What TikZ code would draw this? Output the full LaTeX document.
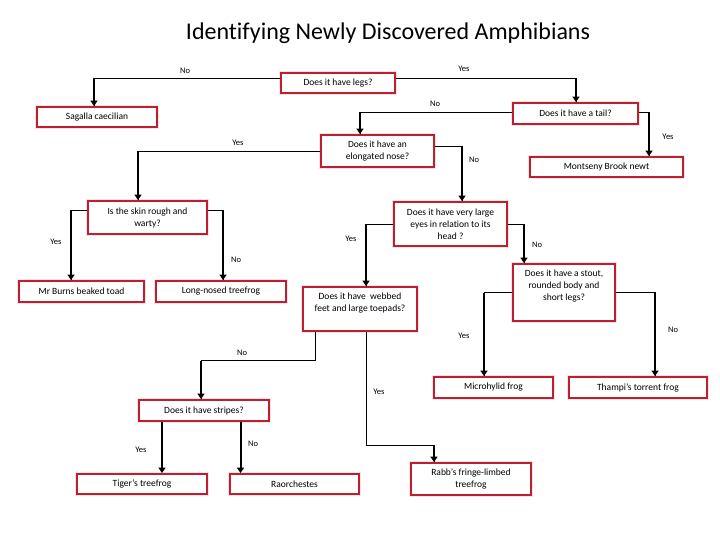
\documentclass[tikz,border=0pt]{standalone}
\usepackage{fontspec}
\setmainfont[Ligatures=NoCommon]{Carlito}
\usetikzlibrary{arrows.meta}
\definecolor{boxred}{RGB}{190,30,45}
\tikzset{
  box/.style={draw=boxred, line width=1.8pt, fill=white, inner sep=0pt, align=center,
    font=\fontsize{9.5}{12}\selectfont, preaction={draw=boxred!12, line width=4pt}},
  txt/.style={align=center, inner sep=0pt, font=\fontsize{9.5}{12}\selectfont},
  lab/.style={inner sep=0pt, font=\fontsize{8.5}{10}\selectfont},
  hline/.style={draw=black, line width=0.9pt},
  vline/.style={draw=black, line width=2pt, -{Triangle[width=7pt,length=5.5pt]}},
}
\begin{document}
\begin{tikzpicture}[x=1pt,y=-1pt]
\useasboundingbox (0,0) rectangle (720,540);
\node[inner sep=0pt, font=\fontsize{24}{28}\selectfont] (title) at (388,33) {Identifying Newly Discovered Amphibians};

% boxes
\node[box, minimum width=114, minimum height=20] (legs) at (338,83) {Does it have legs?};
\node[box, minimum width=120, minimum height=20] (sag) at (97,117) {Sagalla caecilian};
\node[box, minimum width=125, minimum height=21] (tail) at (575.5,113.5) {Does it have a tail?};
\node[box, minimum width=153, minimum height=20] (newt) at (606.5,167) {Montseny Brook newt};
\node[box, minimum width=113, minimum height=32] (elong) at (377.5,151) {Does it have an\\elongated nose?};
\node[box, minimum width=119, minimum height=33] (skin) at (147.5,217.5) {Is the skin rough and\\warty?};
\node[box, minimum width=113, minimum height=44] (eyes) at (450.5,224) {Does it have very large\\eyes in relation to its\\head ?};
\node[box, minimum width=125, minimum height=21] (burns) at (81.5,291.5) {Mr Burns beaked toad};
\node[box, minimum width=130, minimum height=21] (longnose) at (221,291.5) {Long-nosed treefrog};
\node[box, minimum width=114, minimum height=44] (webbedbox) at (360,309) {};
\node[txt] (webbedtxt) at (360,303.5) {Does it have \ webbed\\feet and large toepads?};
\node[box, minimum width=102, minimum height=57] (stoutbox) at (564,292.5) {};
\node[txt] (stouttxt) at (564,286) {Does it have a stout,\\rounded body and\\short legs?};
\node[box, minimum width=119, minimum height=21] (micro) at (493.5,387.5) {Microhylid frog};
\node[box, minimum width=138, minimum height=21] (thampi) at (638,387.5) {Thampi’s torrent frog};
\node[box, minimum width=130, minimum height=21] (stripes) at (204,410.5) {Does it have stripes?};
\node[box, minimum width=130, minimum height=20] (tiger) at (142,484) {Tiger’s treefrog};
\node[box, minimum width=129, minimum height=20] (rao) at (294.5,484) {Raorchestes};
\node[box, minimum width=120, minimum height=32] (rabb) at (471,479) {Rabb’s fringe-limbed\\treefrog};

% connector end points
\coordinate (a1) at ([yshift=5pt]legs.west);     \coordinate (a2) at ([xshift=-3pt]sag.north);
\coordinate (b1) at ([yshift=5pt]legs.east);     \coordinate (b2) at ([xshift=0.5pt]tail.north);
\coordinate (c1) at ([yshift=1.5pt]tail.west);   \coordinate (c2) at ([xshift=-17.5pt]elong.north);
\coordinate (d1) at ([yshift=1.5pt]tail.east);   \coordinate (d2) at ([xshift=42.5pt]newt.north);
\coordinate (e1) at (elong.west);                \coordinate (e2) at ([xshift=-9.5pt]skin.north);
\coordinate (f1) at ([yshift=5pt]elong.east);    \coordinate (f2) at ([xshift=11.5pt]eyes.north);
\coordinate (g1) at ([yshift=7pt]skin.west);     \coordinate (g2) at ([xshift=-10.5pt]burns.north);
\coordinate (h1) at ([yshift=7pt]skin.east);     \coordinate (h2) at ([xshift=2pt]longnose.north);
\coordinate (i1) at (eyes.west);                 \coordinate (i2) at ([xshift=6pt]webbedbox.north);
\coordinate (j1) at (eyes.east);                 \coordinate (j2) at ([xshift=-40pt]stoutbox.north);
\coordinate (m1) at (stoutbox.west);             \coordinate (m2) at ([xshift=-9.5pt]micro.north);
\coordinate (n1) at (stoutbox.east);             \coordinate (n2) at ([xshift=17pt]thampi.north);
\coordinate (k1) at ([xshift=-45pt]webbedbox.south); \coordinate (k2) at ([xshift=-3pt]stripes.north);
\coordinate (k3) at ([yshift=-29pt]k1);
\coordinate (p1) at ([xshift=6pt]webbedbox.south);   \coordinate (p2) at ([xshift=-37pt]rabb.north);
\coordinate (p3) at ([yshift=-114pt]p1);
\coordinate (s1) at ([xshift=-42pt]stripes.south);
\coordinate (s2) at ([xshift=36.5pt]stripes.south);

% connectors
\foreach \c in {a,b,c,d,e,f,g,h,i,j,m,n}{
  \draw[hline] (\c1) -| (\c2);
  \draw[vline] (\c1 -| \c2) -- (\c2);
}
\draw[hline] (k1) -- (k3) -| (k2);
\draw[vline] (k3 -| k2) -- (k2);
\draw[hline] (p1) -- (p3) -| (p2);
\draw[vline] (p3 -| p2) -- (p2);
\draw[vline] (s1) -- (s1 |- tiger.north);
\draw[vline] (s2) -- (s2 |- rao.north);

% labels
\node[lab] (l1) at (185,71) {No};
\node[lab] (l2) at (464,69) {Yes};
\node[lab] (l3) at (435,104) {No};
\node[lab] (l4) at (668,137) {Yes};
\node[lab] (l5) at (238,143) {Yes};
\node[lab] (l6) at (474,160) {No};
\node[lab] (l7) at (56,242) {Yes};
\node[lab] (l8) at (236,260) {No};
\node[lab] (l9) at (351,239) {Yes};
\node[lab] (l10) at (537,245) {No};
\node[lab] (l11) at (242,353) {No};
\node[lab] (l12) at (464,336) {Yes};
\node[lab] (l13) at (673,330) {No};
\node[lab] (l14) at (379,392) {Yes};
\node[lab] (l15) at (141,450) {Yes};
\node[lab] (l16) at (253,444) {No};
\end{tikzpicture}
\end{document}
